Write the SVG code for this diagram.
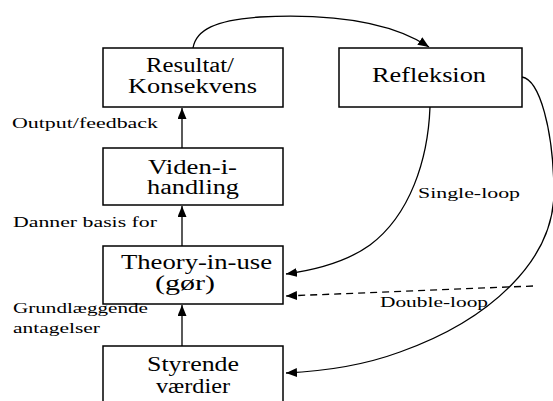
<svg xmlns="http://www.w3.org/2000/svg" width="553" height="401" viewBox="0 0 553 401">
<style>
.box{fill:#fff;stroke:#000;stroke-width:1.5}
.c{fill:none;stroke:#000;stroke-width:1.3}
.d{stroke-dasharray:7,5}
</style>
<defs>
<marker id="ah" markerUnits="userSpaceOnUse" markerWidth="12" markerHeight="10" refX="11" refY="4.5" orient="auto">
<path d="M0,0 L11,4.5 L0,9 z" fill="#000"/>
</marker>
</defs>
<rect width="553" height="401" fill="#fff"/>
<g id="connectors">
<path class="c" d="M182,148 L182,108" marker-end="url(#ah)"/>
<path class="c" d="M182,246 L182,206" marker-end="url(#ah)"/>
<path class="c" d="M182,346 L182,305" marker-end="url(#ah)"/>
<path class="c" d="M193,48 C196,30 215,20 260,17 C320,14 385,18 429,47" marker-end="url(#ah)"/>
<path class="c" d="M430,107 C428,160 410,215 370,245 C345,263 315,270 286,274" marker-end="url(#ah)"/>
<path class="c" d="M522,77 C540,80 553,130 554,190 C555,260 490,320 400,352 C370,363 330,371 286,373" marker-end="url(#ah)"/>
<path class="c d" d="M533,286 L286,296" marker-end="url(#ah)"/>
</g>
<g font-family="Times New Roman, Liberation Serif, serif" font-size="20" fill="#000">
<g id="resultat">
<rect class="box" x="103" y="48" width="180" height="59"/>
<text x="146" y="72" textLength="88" lengthAdjust="spacingAndGlyphs">Resultat/</text>
<text x="128" y="93" textLength="129" lengthAdjust="spacingAndGlyphs">Konsekvens</text>
</g>
<g id="refleksion">
<rect class="box" x="339" y="48" width="183" height="59"/>
<text x="372" y="82" textLength="114" lengthAdjust="spacingAndGlyphs">Refleksion</text>
</g>
<g id="viden">
<rect class="box" x="103" y="148" width="180" height="57"/>
<text x="148" y="174" textLength="89" lengthAdjust="spacingAndGlyphs">Viden-i-</text>
<text x="147" y="194" textLength="92" lengthAdjust="spacingAndGlyphs">handling</text>
</g>
<g id="theory">
<rect class="box" x="103" y="246" width="180" height="58"/>
<text x="121" y="269" textLength="151" lengthAdjust="spacingAndGlyphs">Theory-in-use</text>
<text x="155" y="290" textLength="60" lengthAdjust="spacingAndGlyphs">(gør)</text>
</g>
<g id="styrende">
<rect class="box" x="103" y="346" width="180" height="70"/>
<text x="147" y="371" textLength="92" lengthAdjust="spacingAndGlyphs">Styrende</text>
<text x="156" y="393" textLength="74" lengthAdjust="spacingAndGlyphs">værdier</text>
</g>
<g id="labels" font-size="14">
<text x="12" y="128" textLength="146" lengthAdjust="spacingAndGlyphs">Output/feedback</text>
<text x="13" y="227" textLength="144" lengthAdjust="spacingAndGlyphs">Danner basis for</text>
<text x="13" y="313" textLength="135" lengthAdjust="spacingAndGlyphs">Grundlæggende</text>
<text x="13" y="333" textLength="87" lengthAdjust="spacingAndGlyphs">antagelser</text>
<text x="418" y="198" textLength="102" lengthAdjust="spacingAndGlyphs">Single-loop</text>
<text x="380" y="307" textLength="108" lengthAdjust="spacingAndGlyphs">Double-loop</text>
</g>
</g>
</svg>
